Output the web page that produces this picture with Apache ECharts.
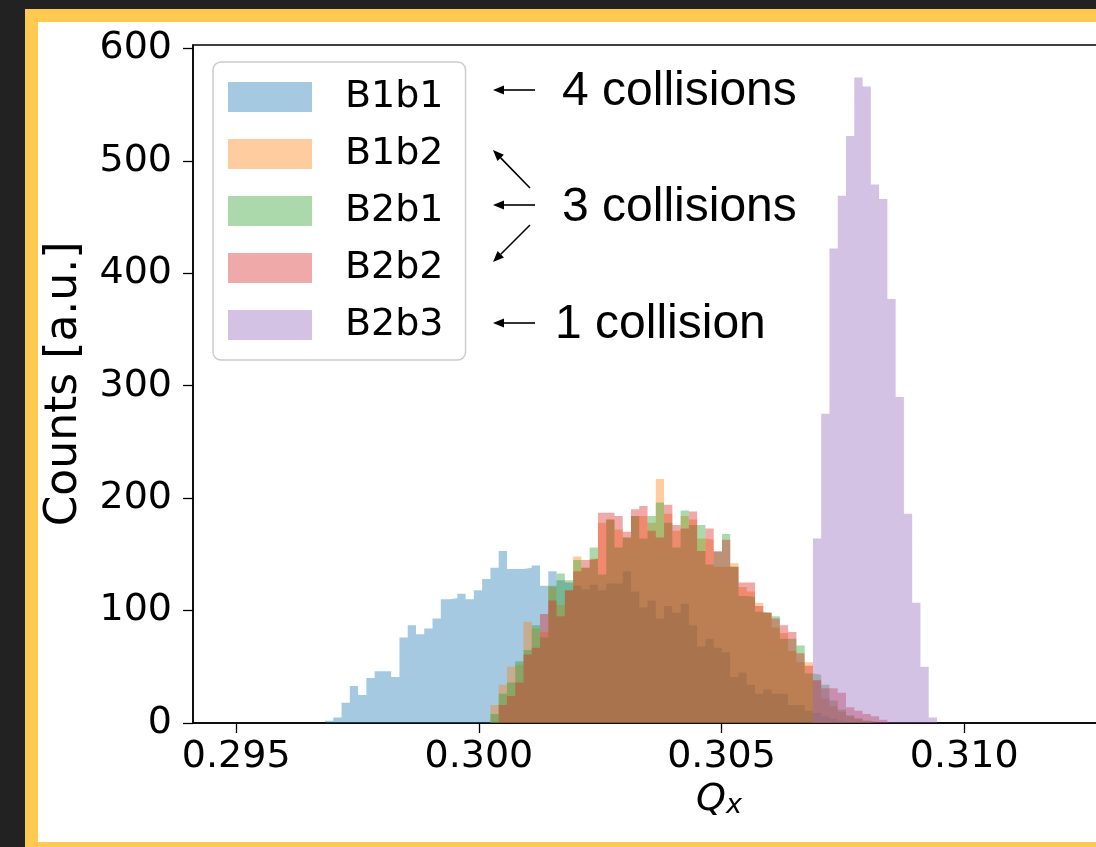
<!DOCTYPE html>
<html>
<head>
<meta charset="utf-8">
<script src="https://cdn.jsdelivr.net/npm/echarts@6/dist/echarts.min.js"></script>
<style>
  html, body { margin: 0; padding: 0; width: 1096px; height: 847px; overflow: hidden; background: #222222; }
  #frame { position: absolute; left: 25px; top: 9px; width: 1200px; height: 820px; border: 13px solid #ffca4f; background: #fff; }
  #chart { position: absolute; left: 0; top: 0; width: 1096px; height: 847px; }
</style>
</head>
<body>
<div id="frame"></div>
<div id="chart"></div>
<script>
// histogram bins (shared grid): left edge of bin 0 and bin width, in Q_x
const BIN_LO = 0.29683
const BIN_W = 0.0001704

const NAMES = ['B1b1', 'B1b2', 'B2b1', 'B2b2', 'B2b3']
// index of the first non-empty bin of each series
const FIRST_BIN = [0, 20, 20, 21, 59]

const B1b1 = [2, 5, 18, 33, 25, 40, 46, 46, 41, 76, 87, 79, 84, 93, 110, 111, 115, 110, 118, 128,
  138, 153, 137, 137, 138, 140, 122, 135, 127, 125, 122, 119, 123, 118, 124, 124, 135, 117, 103, 109,
  93, 104, 98, 106, 87, 68, 75, 67, 63, 41, 45, 34, 26, 30, 26, 26, 16, 16, 11, 9, 6, 4, 2]
const B1b2 = [16, 34, 50, 52, 90, 84, 81, 121, 105, 118, 148, 138, 146, 178, 181, 172, 165, 184, 184, 178,
  217, 186, 171, 184, 181, 164, 163, 139, 139, 142, 121, 117, 107, 98, 85, 80, 64, 54, 54, 38, 22, 15, 10, 6, 4, 2]
const B2b1 = [8, 26, 36, 55, 65, 87, 76, 122, 133, 127, 145, 138, 156, 132, 181, 156, 165, 184, 164, 184,
  196, 178, 156, 189, 176, 176, 141, 152, 168, 139, 113, 112, 99, 98, 95, 75, 75, 69, 44, 43, 34, 20, 12, 7, 4, 2, 1]
const B2b2 = [16, 24, 36, 61, 67, 97, 109, 95, 118, 135, 145, 146, 187, 187, 184, 170, 190, 193, 171,
  165, 194, 176, 173, 188, 153, 173, 153, 163, 139, 125, 125, 104, 98, 93, 87, 81, 62, 51, 38, 31, 31, 27, 14, 11, 8, 6, 3]
const B2b3 = [164, 275, 422, 469, 522, 574, 566, 479, 466, 377, 290, 186, 107, 50, 5]

const COUNTS = [B1b1, B1b2, B2b1, B2b2, B2b3]
const COLORS = ['rgba(31,119,180,0.4)', 'rgba(255,127,14,0.4)', 'rgba(44,160,44,0.4)',
  'rgba(214,39,40,0.4)', 'rgba(148,103,189,0.4)']

const X_TICKS = [0.295, 0.300, 0.305, 0.310]
const Y_TICKS = [0, 100, 200, 300, 400, 500, 600]

const TICK_FONT = 'DejaVu Sans'
const NOTE_FONT = 'Liberation Sans'

function histPoints(first, counts) {
  const pts = counts.map((c, i) => [BIN_LO + (first + i) * BIN_W, c])
  pts.push([BIN_LO + (first + counts.length) * BIN_W, 0])
  return pts
}

function arrow(x1, y1, x2, y2) {
  const a = Math.atan2(y2 - y1, x2 - x1)
  const L = 11, W = 4.5
  const bx = x2 - L * Math.cos(a), by = y2 - L * Math.sin(a)
  const px = -Math.sin(a) * W, py = Math.cos(a) * W
  return [
    { type: 'line', shape: { x1, y1, x2: bx, y2: by }, style: { stroke: '#000', lineWidth: 1.6 }, silent: true },
    { type: 'polygon', shape: { points: [[x2, y2], [bx + px, by + py], [bx - px, by - py]] }, style: { fill: '#000' }, silent: true },
  ]
}

function note(text, x, y) {
  return {
    type: 'text', left: x, top: y - 24, silent: true,
    style: { text, fill: '#000', font: '48px "' + NOTE_FONT + '"' },
  }
}

const chart = echarts.init(document.getElementById('chart'))

const series = NAMES.map((name, k) => ({
  name,
  type: 'line',
  step: 'end',
  data: histPoints(FIRST_BIN[k], COUNTS[k]),
  symbol: 'none',
  lineStyle: { width: 0 },
  itemStyle: { color: COLORS[k] },
  areaStyle: { color: COLORS[k], opacity: 1 },
  silent: true,
}))

chart.setOption({
  animation: false,
  grid: {
    left: 193, right: -139, top: 45, bottom: 124,
    outerBoundsMode: 'none',
    show: true, borderColor: '#000', borderWidth: 1.5,
  },
  legend: {
    orient: 'vertical',
    left: 213,
    top: 62,
    padding: [16, 22, 16, 15],
    icon: 'rect',
    itemWidth: 84,
    itemHeight: 30,
    itemGap: 19,
    borderColor: '#cccccc',
    borderWidth: 1.5,
    borderRadius: 8,
    backgroundColor: 'rgba(255,255,255,0.8)',
    textStyle: { fontFamily: TICK_FONT, fontSize: 38, color: '#000', padding: [0, 0, 0, 28] },
    data: NAMES,
  },
  xAxis: {
    type: 'value',
    min: 0.29411,
    max: 0.31558,
    name: '{q|Q}{s|x}',
    nameLocation: 'middle',
    nameGap: 52,
    nameTextStyle: {
      padding: [0, 0, 0, 10],
      rich: {
        q: { fontFamily: TICK_FONT, fontStyle: 'italic', fontSize: 38, color: '#000' },
        s: { fontFamily: TICK_FONT, fontStyle: 'italic', fontSize: 27, color: '#000', padding: [12, 0, 0, 0] },
      },
    },
    axisLine: { lineStyle: { color: '#000', width: 1.5 } },
    axisTick: { customValues: X_TICKS, length: 10, lineStyle: { color: '#000', width: 1.3 } },
    axisLabel: {
      customValues: X_TICKS, margin: 15, color: '#000', fontFamily: TICK_FONT, fontSize: 38,
      formatter: v => v.toFixed(3),
    },
    splitLine: { show: false },
  },
  yAxis: {
    type: 'value',
    min: 0,
    max: 603,
    name: 'Counts [a.u.]',
    nameLocation: 'middle',
    nameGap: 106,
    nameTextStyle: { fontFamily: TICK_FONT, fontSize: 44, color: '#000' },
    axisLine: { show: true, lineStyle: { color: '#000', width: 1.5 } },
    axisTick: { show: true, customValues: Y_TICKS, length: 10, lineStyle: { color: '#000', width: 1.3 } },
    axisLabel: { customValues: Y_TICKS, margin: 21, color: '#000', fontFamily: TICK_FONT, fontSize: 38 },
    splitLine: { show: false },
  },
  series,
  graphic: [
    ...arrow(535, 90, 493, 90),
    ...arrow(530, 188, 493, 150),
    ...arrow(535, 205, 493, 205),
    ...arrow(530, 225, 493, 262),
    ...arrow(535, 323, 493, 323),
    note('4 collisions', 562, 92),
    note('3 collisions', 562, 208),
    note('1 collision', 555, 325),
  ],
})

window.addEventListener('resize', () => chart.resize())
</script>
</body>
</html>
